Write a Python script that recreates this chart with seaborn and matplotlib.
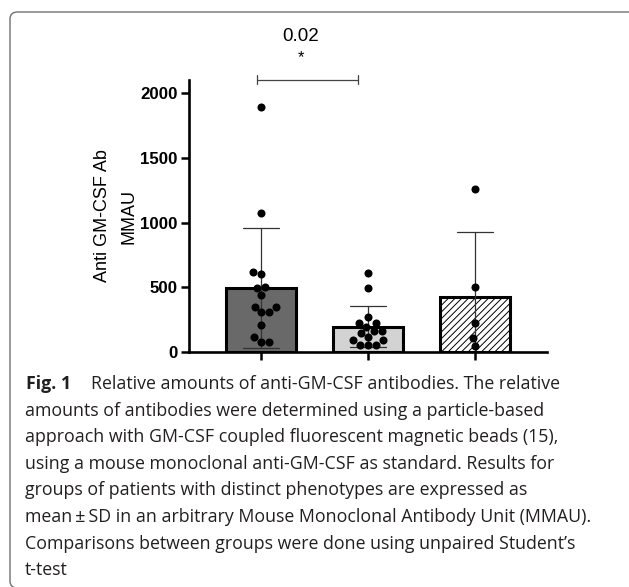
import matplotlib
matplotlib.use("Agg")
import matplotlib.pyplot as plt
from matplotlib.patches import FancyBboxPatch
import seaborn as sns
import pandas as pd

# values (MMAU)
groups = ["Group 1", "Group 2", "Group 3"]
group1_values = [1892, 1076, 614, 601, 503, 493, 439, 348, 346, 305, 305, 206, 111, 75, 75]
group2_values = [606, 495, 265, 220, 220, 190, 160, 160, 145, 115, 90, 90, 55, 50, 50]
group3_values = [1257, 503, 225, 105, 45]
bar_colors = ["#696969", "#d3d3d3", "#ffffff"]
y_ticks = [0, 500, 1000, 1500, 2000]
p_value = "0.02"

caption_lines = [
    "Relative amounts of anti-GM-CSF antibodies. The relative",
    "amounts of antibodies were determined using a particle-based",
    "approach with GM-CSF coupled fluorescent magnetic beads (15),",
    "using a mouse monoclonal anti-GM-CSF as standard. Results for",
    "groups of patients with distinct phenotypes are expressed as",
    "mean\u2009\u00b1\u2009SD in an arbitrary Mouse Monoclonal Antibody Unit (MMAU).",
    "Comparisons between groups were done using unpaired Student\u2019s",
    "t-test",
]

df = pd.DataFrame({
    "group": [groups[0]] * len(group1_values) + [groups[1]] * len(group2_values) + [groups[2]] * len(group3_values),
    "value": group1_values + group2_values + group3_values,
})

sns.set_style("ticks")
plt.rcParams["font.family"] = ["Liberation Sans", "DejaVu Sans"]
plt.rcParams["hatch.linewidth"] = 0.7
for k in ["text.color", "axes.labelcolor", "xtick.color", "ytick.color", "axes.edgecolor"]:
    plt.rcParams[k] = "black"

W, H = 629, 587
fig = plt.figure(figsize=(W / 100, H / 100), dpi=100)

# rounded frame around figure + caption
frame = FancyBboxPatch((10 / W, 1 - 588 / H), 640 / W, 576 / H,
                       boxstyle="round,pad=0,rounding_size=0.012",
                       transform=fig.transFigure, fill=False,
                       edgecolor="#707070", linewidth=1.0, clip_on=False)
fig.patches.append(frame)

ax = fig.add_axes([189 / W, 1 - 351.7 / H, 358 / W, 271.3 / H])

sns.barplot(data=df, x="group", y="value", hue="group", palette=bar_colors,
            legend=False, errorbar="sd", capsize=0.34, width=0.654,
            edgecolor="black", linewidth=2.2,
            err_kws={"linewidth": 0.9, "color": "#333333"}, ax=ax)
ax.patches[2].set_hatch("/////")
sns.swarmplot(data=df, x="group", y="value", color="black", size=5.8,
              zorder=3, ax=ax)

ax.set_xlim(-0.673, 2.673)
ax.set_ylim(0, 2100)
ax.set_yticks(y_ticks)
ax.set_yticklabels([str(t) for t in y_ticks], fontweight="bold", fontsize=12.2)
ax.tick_params(axis="y", length=6, width=1.8, pad=2)
ax.tick_params(axis="x", length=6, width=1.8, labelbottom=False)
for side in ["left", "bottom"]:
    ax.spines[side].set_linewidth(1.9)
sns.despine(ax=ax)
ax.set_xlabel("")
ax.set_ylabel("Anti GM-CSF Ab\nMMAU", fontsize=13, va="center", linespacing=1.75)
ax.yaxis.set_label_coords(-0.205, 0.5)

# significance bracket between group 1 and 2
bx0, bx1, by = -0.04, 0.907, 2105
ax.plot([bx0, bx1], [by, by], color="#444444", lw=0.9, clip_on=False)
ax.plot([bx0, bx0], [by - 35, by + 35], color="#444444", lw=0.9, clip_on=False)
ax.plot([bx1, bx1], [by - 35, by + 35], color="#444444", lw=0.9, clip_on=False)
ax.text(0.374, 2275, "*", ha="center", va="center", fontsize=12, clip_on=False)
ax.text(0.374, 2440, p_value, ha="center", va="center", fontsize=13.5, clip_on=False)

# caption
cap_font = "Open Sans"
cap_size = 12.8
cap_color = "#231f20"
y0 = 389
for i, line in enumerate(caption_lines):
    x = 91 if i == 0 else 25
    fig.text(x / W, 1 - (y0 + i * 26.6) / H, line, fontsize=cap_size,
             family=[cap_font, "DejaVu Sans"], color=cap_color, va="baseline")
fig.text(26 / W, 1 - y0 / H, "Fig. 1", fontsize=cap_size, fontweight="bold",
         family=[cap_font, "DejaVu Sans"], color=cap_color, va="baseline")

fig.savefig("out.png", dpi=100)
